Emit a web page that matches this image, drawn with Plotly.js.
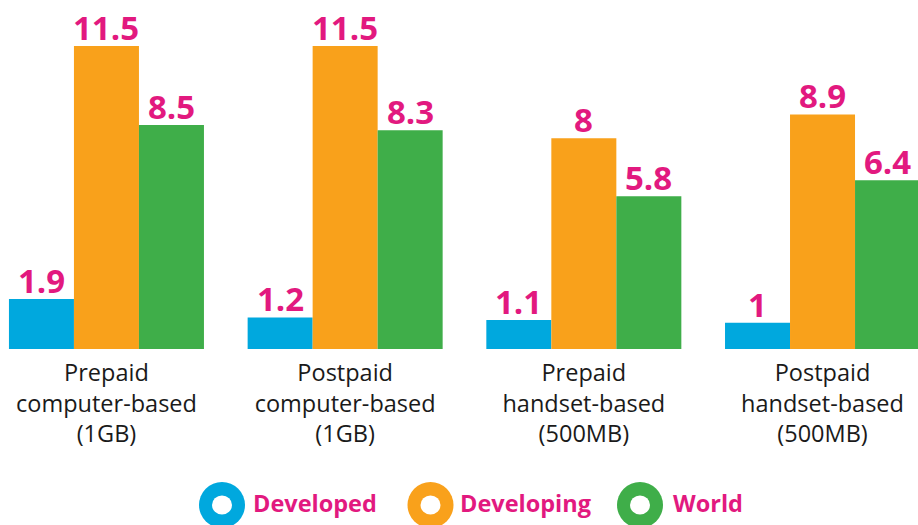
<!DOCTYPE html>
<html>
<head>
<meta charset="utf-8">
<script src="https://cdn.plot.ly/plotly-3.0.1.min.js"></script>
<style>html,body{margin:0;padding:0;background:#fff;}#chart{width:918px;height:525px;}</style>
</head>
<body>
<div id="chart"></div>
<script>
const categories = [
  "Prepaid<br>computer-based<br>(1GB)",
  "Postpaid<br>computer-based<br>(1GB)",
  "Prepaid<br>handset-based<br>(500MB)",
  "Postpaid<br>handset-based<br>(500MB)"
];
const seriesNames = ["Developed", "Developing", "World"];
const developed = [1.9, 1.2, 1.1, 1];
const developing = [11.5, 11.5, 8, 8.9];
const world = [8.5, 8.3, 5.8, 6.4];
const colors = ["#00a8de", "#f9a11b", "#3fae49"];
const magenta = "#e2197f";

const W = 918, H = 525, base = 349;
const bargap = 0.183;
const barW = (1 - bargap) / 3;
const values = [developed, developing, world];
const traces = values.map((v, i) => ({
  type: "bar",
  x: categories,
  y: v,
  name: seriesNames[i],
  marker: {color: colors[i]},
  hoverinfo: "none"
}));

const annotations = [];
// value labels above bars
values.forEach((v, i) => {
  v.forEach((val, j) => {
    annotations.push({xref: "x", yref: "y", x: j + (i - 1) * barW, y: val,
      xanchor: "center", yanchor: "bottom", yshift: -6, showarrow: false,
      text: String(val),
      font: {family: "Open Sans", size: 33, color: magenta, weight: "bold"}});
  });
});

// custom legend: rings + labels
const px = x => x / W;
const py = y => (base - y) / base;
const legendPos = [{cx: 222, tx: 251}, {cx: 430.5, tx: 458}, {cx: 640, tx: 671}];
const cy = 505;
const shapes = [];
legendPos.forEach((p, i) => {
  shapes.push({type: "circle", xref: "paper", yref: "paper",
    x0: px(p.cx - 23), x1: px(p.cx + 23), y0: py(cy + 23), y1: py(cy - 23),
    fillcolor: colors[i], line: {width: 0}});
  shapes.push({type: "circle", xref: "paper", yref: "paper",
    x0: px(p.cx - 10), x1: px(p.cx + 10), y0: py(cy + 9.5), y1: py(cy - 9.5),
    fillcolor: "#ffffff", line: {width: 0}});
  annotations.push({xref: "paper", yref: "paper", x: px(p.tx), y: py(503),
    xanchor: "left", yanchor: "middle", showarrow: false, text: seriesNames[i],
    font: {family: "Open Sans", size: 23.5, color: magenta, weight: "bold"}});
});

const layout = {
  width: W, height: H,
  margin: {l: 0, r: 0, t: 0, b: H - base},
  paper_bgcolor: "#ffffff", plot_bgcolor: "#ffffff",
  barmode: "group", bargap: bargap, bargroupgap: 0,
  showlegend: false,
  xaxis: {type: "category", range: [-0.446, 3.400], showgrid: false, zeroline: false,
    showline: false, ticks: "outside", ticklen: 3, tickcolor: "rgba(0,0,0,0)",
    tickfont: {family: "Open Sans", size: 23.5, color: "#1a1a1a"}},
  yaxis: {range: [0, 13.245], visible: false, showgrid: false, zeroline: false},
  shapes: shapes,
  annotations: annotations,
  font: {family: "Open Sans"}
};
Plotly.newPlot("chart", traces, layout, {displayModeBar: false, staticPlot: true});
</script>
</body>
</html>
